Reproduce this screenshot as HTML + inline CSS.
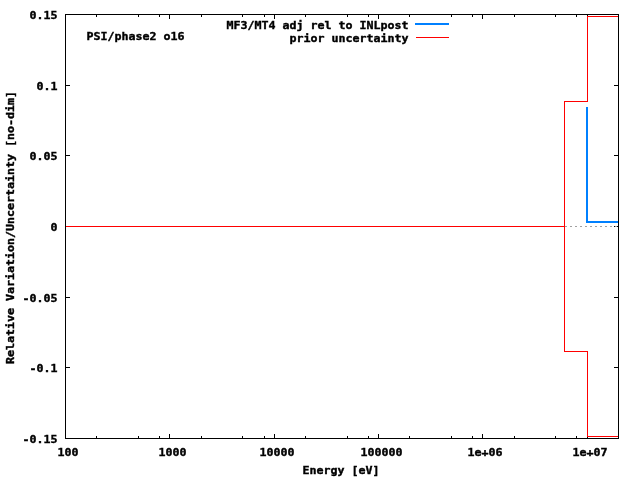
<!DOCTYPE html>
<html lang="en"><head><meta charset="utf-8"><title>MF3/MT4 adj rel to INLpost</title>
<style>html,body{margin:0;padding:0;background:#fff;overflow:hidden}svg{display:block;position:absolute;left:0;top:0}text{font-family:"DejaVu Sans Mono","Liberation Mono",monospace;font-weight:bold;font-size:11.3px;fill:#000;stroke:#000;stroke-width:0.4px;white-space:pre}</style>
</head><body>
<svg width="640" height="480" viewBox="0 0 640 480">
<rect x="0" y="0" width="640" height="480" fill="#fff"/>
<g shape-rendering="crispEdges">
<rect x="65" y="14" width="5" height="1" fill="#000"/>
<rect x="614" y="14" width="5" height="1" fill="#000"/>
<rect x="65" y="85" width="5" height="1" fill="#000"/>
<rect x="614" y="85" width="5" height="1" fill="#000"/>
<rect x="65" y="155" width="5" height="1" fill="#000"/>
<rect x="614" y="155" width="5" height="1" fill="#000"/>
<rect x="65" y="226" width="5" height="1" fill="#000"/>
<rect x="614" y="226" width="5" height="1" fill="#000"/>
<rect x="65" y="297" width="5" height="1" fill="#000"/>
<rect x="614" y="297" width="5" height="1" fill="#000"/>
<rect x="65" y="367" width="5" height="1" fill="#000"/>
<rect x="614" y="367" width="5" height="1" fill="#000"/>
<rect x="65" y="438" width="5" height="1" fill="#000"/>
<rect x="614" y="438" width="5" height="1" fill="#000"/>
<rect x="65" y="434" width="1" height="5" fill="#000"/>
<rect x="65" y="14" width="1" height="5" fill="#000"/>
<rect x="96" y="436" width="1" height="3" fill="#000"/>
<rect x="96" y="14" width="1" height="3" fill="#000"/>
<rect x="138" y="436" width="1" height="3" fill="#000"/>
<rect x="138" y="14" width="1" height="3" fill="#000"/>
<rect x="159" y="436" width="1" height="3" fill="#000"/>
<rect x="159" y="14" width="1" height="3" fill="#000"/>
<rect x="169" y="434" width="1" height="5" fill="#000"/>
<rect x="169" y="14" width="1" height="5" fill="#000"/>
<rect x="201" y="436" width="1" height="3" fill="#000"/>
<rect x="201" y="14" width="1" height="3" fill="#000"/>
<rect x="242" y="436" width="1" height="3" fill="#000"/>
<rect x="242" y="14" width="1" height="3" fill="#000"/>
<rect x="264" y="436" width="1" height="3" fill="#000"/>
<rect x="264" y="14" width="1" height="3" fill="#000"/>
<rect x="274" y="434" width="1" height="5" fill="#000"/>
<rect x="274" y="14" width="1" height="5" fill="#000"/>
<rect x="305" y="436" width="1" height="3" fill="#000"/>
<rect x="305" y="14" width="1" height="3" fill="#000"/>
<rect x="347" y="436" width="1" height="3" fill="#000"/>
<rect x="347" y="14" width="1" height="3" fill="#000"/>
<rect x="368" y="436" width="1" height="3" fill="#000"/>
<rect x="368" y="14" width="1" height="3" fill="#000"/>
<rect x="378" y="434" width="1" height="5" fill="#000"/>
<rect x="378" y="14" width="1" height="5" fill="#000"/>
<rect x="409" y="436" width="1" height="3" fill="#000"/>
<rect x="409" y="14" width="1" height="3" fill="#000"/>
<rect x="451" y="436" width="1" height="3" fill="#000"/>
<rect x="451" y="14" width="1" height="3" fill="#000"/>
<rect x="472" y="436" width="1" height="3" fill="#000"/>
<rect x="472" y="14" width="1" height="3" fill="#000"/>
<rect x="482" y="434" width="1" height="5" fill="#000"/>
<rect x="482" y="14" width="1" height="5" fill="#000"/>
<rect x="514" y="436" width="1" height="3" fill="#000"/>
<rect x="514" y="14" width="1" height="3" fill="#000"/>
<rect x="555" y="436" width="1" height="3" fill="#000"/>
<rect x="555" y="14" width="1" height="3" fill="#000"/>
<rect x="576" y="436" width="1" height="3" fill="#000"/>
<rect x="576" y="14" width="1" height="3" fill="#000"/>
<rect x="587" y="434" width="1" height="5" fill="#000"/>
<rect x="587" y="14" width="1" height="5" fill="#000"/>
<rect x="618" y="436" width="1" height="3" fill="#000"/>
<rect x="618" y="14" width="1" height="3" fill="#000"/>
<g fill="#a0a0a0">
<rect x="65" y="226" width="2" height="1"/>
<rect x="70" y="226" width="2" height="1"/>
<rect x="75" y="226" width="2" height="1"/>
<rect x="80" y="226" width="2" height="1"/>
<rect x="85" y="226" width="2" height="1"/>
<rect x="90" y="226" width="2" height="1"/>
<rect x="95" y="226" width="2" height="1"/>
<rect x="100" y="226" width="2" height="1"/>
<rect x="105" y="226" width="2" height="1"/>
<rect x="110" y="226" width="2" height="1"/>
<rect x="115" y="226" width="2" height="1"/>
<rect x="120" y="226" width="2" height="1"/>
<rect x="125" y="226" width="2" height="1"/>
<rect x="130" y="226" width="2" height="1"/>
<rect x="135" y="226" width="2" height="1"/>
<rect x="140" y="226" width="2" height="1"/>
<rect x="145" y="226" width="2" height="1"/>
<rect x="150" y="226" width="2" height="1"/>
<rect x="155" y="226" width="2" height="1"/>
<rect x="160" y="226" width="2" height="1"/>
<rect x="165" y="226" width="2" height="1"/>
<rect x="170" y="226" width="2" height="1"/>
<rect x="175" y="226" width="2" height="1"/>
<rect x="180" y="226" width="2" height="1"/>
<rect x="185" y="226" width="2" height="1"/>
<rect x="190" y="226" width="2" height="1"/>
<rect x="195" y="226" width="2" height="1"/>
<rect x="200" y="226" width="2" height="1"/>
<rect x="205" y="226" width="2" height="1"/>
<rect x="210" y="226" width="2" height="1"/>
<rect x="215" y="226" width="2" height="1"/>
<rect x="220" y="226" width="2" height="1"/>
<rect x="225" y="226" width="2" height="1"/>
<rect x="230" y="226" width="2" height="1"/>
<rect x="235" y="226" width="2" height="1"/>
<rect x="240" y="226" width="2" height="1"/>
<rect x="245" y="226" width="2" height="1"/>
<rect x="250" y="226" width="2" height="1"/>
<rect x="255" y="226" width="2" height="1"/>
<rect x="260" y="226" width="2" height="1"/>
<rect x="265" y="226" width="2" height="1"/>
<rect x="270" y="226" width="2" height="1"/>
<rect x="275" y="226" width="2" height="1"/>
<rect x="280" y="226" width="2" height="1"/>
<rect x="285" y="226" width="2" height="1"/>
<rect x="290" y="226" width="2" height="1"/>
<rect x="295" y="226" width="2" height="1"/>
<rect x="300" y="226" width="2" height="1"/>
<rect x="305" y="226" width="2" height="1"/>
<rect x="310" y="226" width="2" height="1"/>
<rect x="315" y="226" width="2" height="1"/>
<rect x="320" y="226" width="2" height="1"/>
<rect x="325" y="226" width="2" height="1"/>
<rect x="330" y="226" width="2" height="1"/>
<rect x="335" y="226" width="2" height="1"/>
<rect x="340" y="226" width="2" height="1"/>
<rect x="345" y="226" width="2" height="1"/>
<rect x="350" y="226" width="2" height="1"/>
<rect x="355" y="226" width="2" height="1"/>
<rect x="360" y="226" width="2" height="1"/>
<rect x="365" y="226" width="2" height="1"/>
<rect x="370" y="226" width="2" height="1"/>
<rect x="375" y="226" width="2" height="1"/>
<rect x="380" y="226" width="2" height="1"/>
<rect x="385" y="226" width="2" height="1"/>
<rect x="390" y="226" width="2" height="1"/>
<rect x="395" y="226" width="2" height="1"/>
<rect x="400" y="226" width="2" height="1"/>
<rect x="405" y="226" width="2" height="1"/>
<rect x="410" y="226" width="2" height="1"/>
<rect x="415" y="226" width="2" height="1"/>
<rect x="420" y="226" width="2" height="1"/>
<rect x="425" y="226" width="2" height="1"/>
<rect x="430" y="226" width="2" height="1"/>
<rect x="435" y="226" width="2" height="1"/>
<rect x="440" y="226" width="2" height="1"/>
<rect x="445" y="226" width="2" height="1"/>
<rect x="450" y="226" width="2" height="1"/>
<rect x="455" y="226" width="2" height="1"/>
<rect x="460" y="226" width="2" height="1"/>
<rect x="465" y="226" width="2" height="1"/>
<rect x="470" y="226" width="2" height="1"/>
<rect x="475" y="226" width="2" height="1"/>
<rect x="480" y="226" width="2" height="1"/>
<rect x="485" y="226" width="2" height="1"/>
<rect x="490" y="226" width="2" height="1"/>
<rect x="495" y="226" width="2" height="1"/>
<rect x="500" y="226" width="2" height="1"/>
<rect x="505" y="226" width="2" height="1"/>
<rect x="510" y="226" width="2" height="1"/>
<rect x="515" y="226" width="2" height="1"/>
<rect x="520" y="226" width="2" height="1"/>
<rect x="525" y="226" width="2" height="1"/>
<rect x="530" y="226" width="2" height="1"/>
<rect x="535" y="226" width="2" height="1"/>
<rect x="540" y="226" width="2" height="1"/>
<rect x="545" y="226" width="2" height="1"/>
<rect x="550" y="226" width="2" height="1"/>
<rect x="555" y="226" width="2" height="1"/>
<rect x="560" y="226" width="2" height="1"/>
<rect x="565" y="226" width="2" height="1"/>
<rect x="570" y="226" width="2" height="1"/>
<rect x="575" y="226" width="2" height="1"/>
<rect x="580" y="226" width="2" height="1"/>
<rect x="585" y="226" width="2" height="1"/>
<rect x="590" y="226" width="2" height="1"/>
<rect x="595" y="226" width="2" height="1"/>
<rect x="600" y="226" width="2" height="1"/>
<rect x="605" y="226" width="2" height="1"/>
<rect x="610" y="226" width="2" height="1"/>
<rect x="615" y="226" width="2" height="1"/>
</g>
<rect x="65" y="14" width="554" height="1" fill="#000"/>
<rect x="65" y="438" width="554" height="1" fill="#000"/>
<rect x="65" y="14" width="1" height="425" fill="#000"/>
<rect x="618" y="14" width="1" height="425" fill="#000"/>
<rect x="586" y="107" width="2" height="116" fill="#0080ff"/>
<rect x="586" y="221" width="32" height="2" fill="#0080ff"/>
<rect x="415" y="23" width="34" height="2" fill="#0080ff"/>
<rect x="66" y="226" width="499" height="1" fill="#ff0000"/>
<rect x="564" y="101" width="1" height="251" fill="#ff0000"/>
<rect x="564" y="101" width="24" height="1" fill="#ff0000"/>
<rect x="564" y="351" width="24" height="1" fill="#ff0000"/>
<rect x="587" y="16" width="1" height="86" fill="#ff0000"/>
<rect x="587" y="351" width="1" height="86" fill="#ff0000"/>
<rect x="587" y="16" width="31" height="1" fill="#ff0000"/>
<rect x="587" y="436" width="31" height="1" fill="#ff0000"/>
<rect x="416" y="37" width="33" height="1" fill="#ff0000"/>
</g>
<text x="29.4" y="18.5" textLength="28" lengthAdjust="spacingAndGlyphs">0.15</text>
<text x="36.4" y="89.5" textLength="21" lengthAdjust="spacingAndGlyphs">0.1</text>
<text x="29.4" y="159.5" textLength="28" lengthAdjust="spacingAndGlyphs">0.05</text>
<text x="50.4" y="230.5" textLength="7" lengthAdjust="spacingAndGlyphs">0</text>
<text x="22.4" y="301.5" textLength="35" lengthAdjust="spacingAndGlyphs">-0.05</text>
<text x="29.4" y="371.5" textLength="28" lengthAdjust="spacingAndGlyphs">-0.1</text>
<text x="22.4" y="442.5" textLength="35" lengthAdjust="spacingAndGlyphs">-0.15</text>
<text x="57.4" y="456" textLength="21" lengthAdjust="spacingAndGlyphs">100</text>
<text x="158.4" y="456" textLength="28" lengthAdjust="spacingAndGlyphs">1000</text>
<text x="259.4" y="456" textLength="35" lengthAdjust="spacingAndGlyphs">10000</text>
<text x="360.4" y="456" textLength="42" lengthAdjust="spacingAndGlyphs">100000</text>
<text x="467.4" y="456" textLength="35" lengthAdjust="spacingAndGlyphs">1e+06</text>
<text x="572.4" y="456" textLength="35" lengthAdjust="spacingAndGlyphs">1e+07</text>
<text x="302.4" y="474.4" textLength="77" lengthAdjust="spacingAndGlyphs">Energy [eV]</text>
<text x="86.4" y="40" textLength="98" lengthAdjust="spacingAndGlyphs">PSI/phase2 o16</text>
<text x="226.4" y="28.7" textLength="182" lengthAdjust="spacingAndGlyphs">MF3/MT4 adj rel to INLpost</text>
<text x="289.4" y="41.6" textLength="119" lengthAdjust="spacingAndGlyphs">prior uncertainty</text>
<text x="0" y="0" textLength="273" lengthAdjust="spacingAndGlyphs" transform="translate(14 364) rotate(-90)">Relative Variation/Uncertainty [no-dim]</text>
</svg>
</body></html>
